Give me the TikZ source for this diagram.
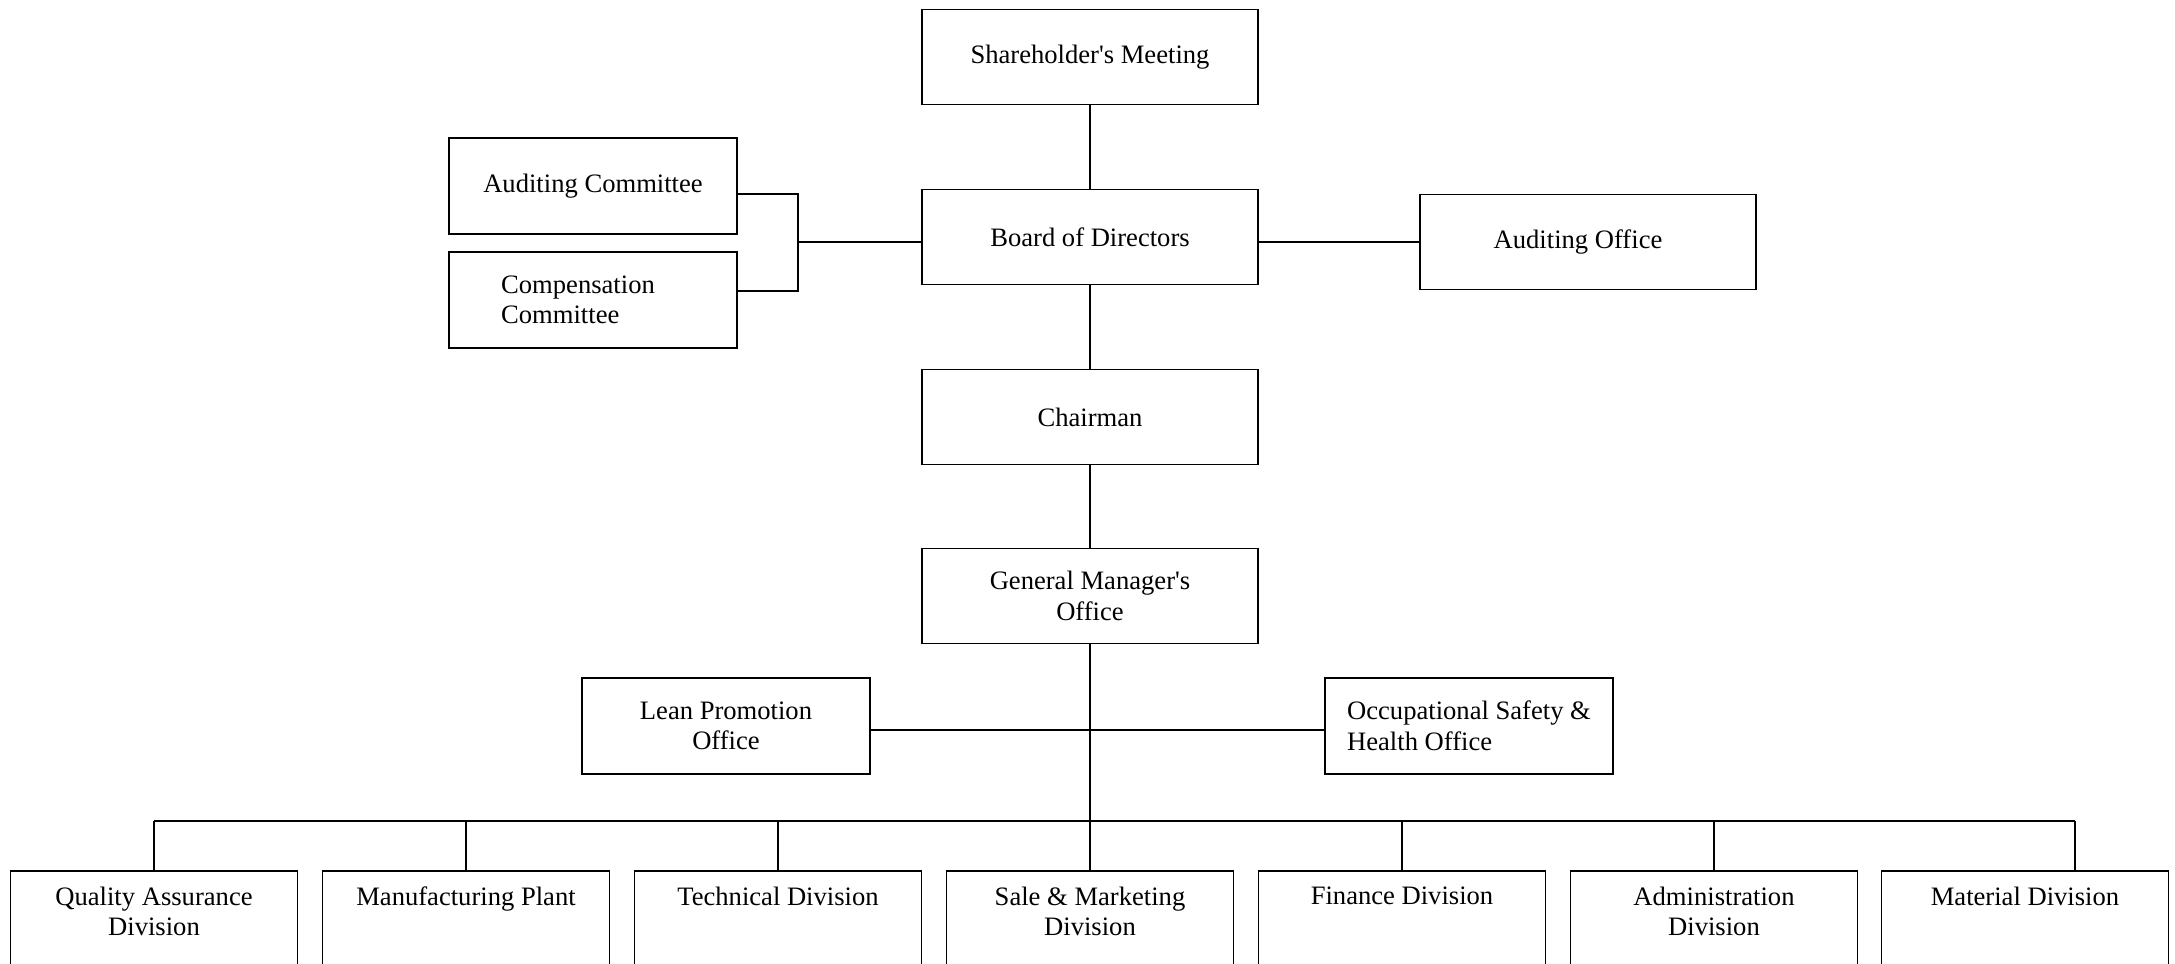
\documentclass[tikz,border=0pt]{standalone}
\usepackage{fontspec}
\setmainfont{Liberation Serif}
\newcommand{\divlbl}[1]{\parbox[t][40pt][t]{136pt}{\centering #1}}

\begin{document}
\begin{tikzpicture}[x=0.5pt, y=-0.5pt, line width=0.9pt,
    font=\fontsize{13.3}{15.3}\selectfont,
    bigbox/.style={draw, rectangle, align=center, minimum width=168pt, minimum height=47.5pt},
    sidebox/.style={draw, rectangle, align=center, minimum width=144pt, minimum height=48pt},
    divbox/.style={draw, rectangle, anchor=north, minimum width=143.5pt, inner xsep=0pt, inner ysep=8pt}]
    \clip (0,0) rectangle (2175,964);

    \node[bigbox] (share) at (1090,57) {Shareholder\textquotesingle s Meeting};
    \node[bigbox] (board) at (1090,237) {Board of Directors};
    \node[bigbox] (chair) at (1090,417) {Chairman};
    \node[bigbox] (gm) at (1090,596) {General Manager\textquotesingle s\\Office};
    \node[sidebox] (audcom) at (593,186) {Auditing Committee};
    \node[sidebox, align=left] (compcom) at (593,300) {Compensation\hspace*{15pt}\\Committee};
    \node[bigbox] (audoff) at (1588,242) {Auditing Office\hspace*{10pt}};
    \node[sidebox] (lean) at (726,726) {Lean Promotion\\Office};
    \node[sidebox, align=left] (osh) at (1469,726) {Occupational Safety \&\\Health Office};

    \foreach \nm/\xx/\txt in {qa/154/{Quality Assurance\\Division}, mfg/466/{Manufacturing Plant},
        tech/778/{Technical Division}, sales/1090/{Sale \& Marketing\\Division},
        fin/1402/{Finance Division}, admin/1714/{Administration\\Division}, mat/2025/{Material Division}}
        \node[divbox] (\nm) at (\xx,870) {\divlbl{\txt}};

    \coordinate (brk) at (798,242);
    \coordinate (busL) at (154,821);
    \coordinate (busR) at (2075,821);

    \draw (share) -- (board);
    \draw (board) -- (chair);
    \draw (chair) -- (gm);
    \draw (audoff.west -| board.east) -- (audoff.west);
    \draw ([yshift=-4pt]audcom.east) -- ([yshift=-4pt]audcom.east -| brk)
        -- ([yshift=4.5pt]compcom.east -| brk) -- ([yshift=4.5pt]compcom.east);
    \draw (brk) -- (brk -| board.west);
    \draw (gm.south) -- (gm.south |- busL);
    \draw ([yshift=-2pt]lean.east) -- ([yshift=-2pt]osh.west);
    \draw (busL) -- (busR);
    \foreach \nm in {qa,mfg,tech,sales,fin,admin}
        \draw (\nm.north) -- (\nm.north |- busL);
    \draw (busR) -- (busR |- mat.north);
\end{tikzpicture}
\end{document}
